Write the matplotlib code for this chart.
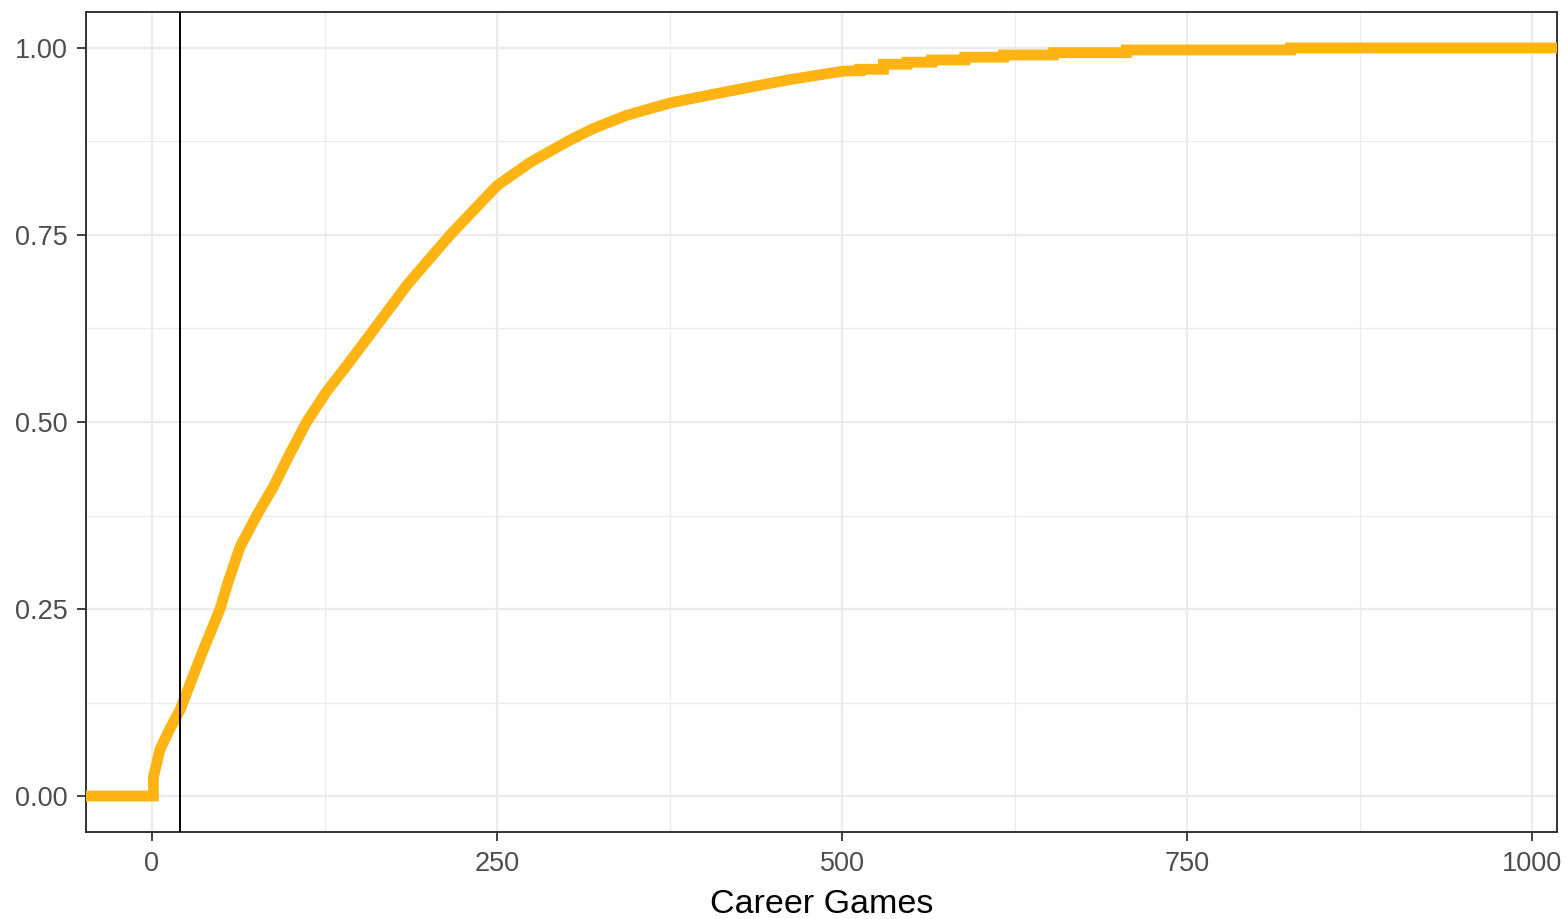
import numpy as np
import matplotlib.pyplot as plt

plt.rcParams['font.family'] = ['Liberation Sans', 'DejaVu Sans']

# Empirical CDF of career games (knots of the step curve)
games = [-60, 1, 1, 5.8, 13, 20.3, 36, 49.3, 55.3, 63.8, 75.8, 88,
         98.8, 112, 126.6, 139.9, 156.8, 185.6, 216, 250, 274, 303, 320,
         344, 376.6, 416.4, 460, 500.5, 513, 513, 530, 530, 547, 547, 565,
         565, 589, 589, 617, 617, 653, 653, 706, 706, 825, 825, 1100]
ecdf = [0, 0, 0.025, 0.0625, 0.09, 0.115, 0.19, 0.25, 0.287,
        0.333, 0.375, 0.4135, 0.4536, 0.5, 0.541, 0.5725, 0.614, 0.685, 0.75,
        0.816, 0.847, 0.877, 0.8925, 0.910, 0.927, 0.9416, 0.957, 0.969,
        0.9695, 0.9715, 0.9715, 0.9782, 0.9782, 0.9809, 0.9809, 0.984, 0.984,
        0.9876, 0.9876, 0.9906, 0.9906, 0.9937, 0.9937, 0.9973, 0.9973, 1.0,
        1.0]
cutoff = 20

x_ticks = [0, 250, 500, 750, 1000]
y_ticks = [0, 0.25, 0.5, 0.75, 1.0]
y_labels = ['0.00', '0.25', '0.50', '0.75', '1.00']

fig = plt.figure(figsize=(15.67, 9.19), dpi=100)
ax = fig.add_axes([0.0549, 0.0947, 0.9387, 0.8922])

ax.plot(games, ecdf, color='#FFB414', lw=7.8, solid_joinstyle='miter',
        solid_capstyle='butt', zorder=3)
ax.axvline(cutoff, color='black', lw=1.4, zorder=4)

ax.set_xlim(-47.8, 1018)
ax.set_ylim(-0.048, 1.048)

ax.set_xticks(x_ticks)
ax.set_yticks(y_ticks)
ax.set_yticklabels(y_labels)
ax.set_xticks([125, 375, 625, 875], minor=True)
ax.set_yticks([0.125, 0.375, 0.625, 0.875], minor=True)

ax.grid(True, which='major', color='#EBEBEB', lw=1.6, zorder=0)
ax.grid(True, which='minor', color='#EBEBEB', lw=0.9, zorder=0)
ax.set_axisbelow(True)

ax.tick_params(which='major', length=6.5, width=1.3, color='#333333',
               labelsize=19.5, labelcolor='#4D4D4D', pad=7)
ax.tick_params(which='minor', length=0)
for s in ax.spines.values():
    s.set_color('#333333')
    s.set_linewidth(1.4)

ax.set_xlabel('Career Games', fontsize=24.5, color='black', labelpad=9)

fig.savefig('out.png', dpi=100)
